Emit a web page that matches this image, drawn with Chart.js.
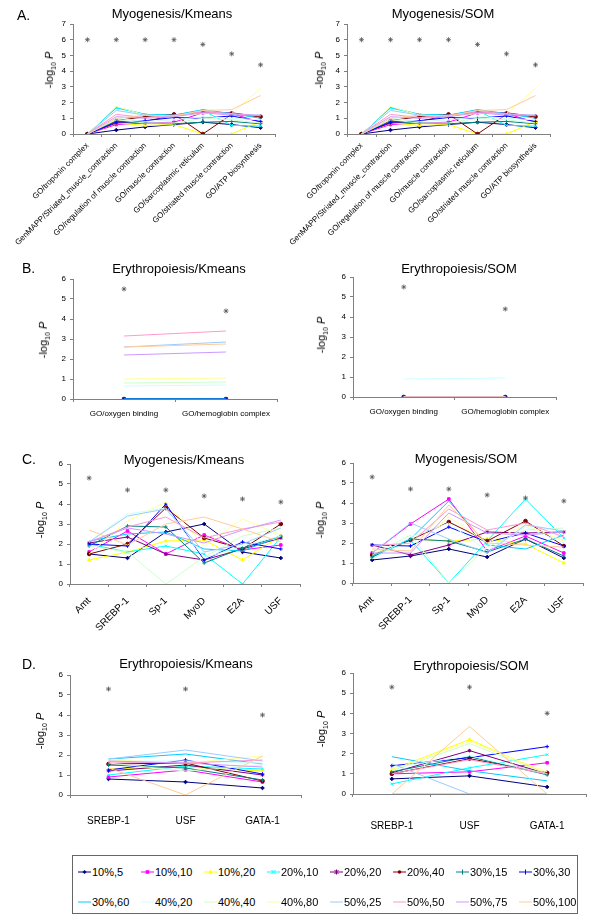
<!DOCTYPE html>
<html>
<head>
<meta charset="utf-8">
<script src="https://cdn.jsdelivr.net/npm/chart.js@4.4.1/dist/chart.umd.min.js"></script>
<style>
  body { margin: 0; background: #fff; font-family: "Liberation Sans", Arial, sans-serif; }
  #page { position: relative; width: 600px; height: 916px; overflow: hidden; }
  #page canvas { position: absolute; }
  .title { position: absolute; transform: translate(-50%, -50%); white-space: nowrap; font-size: 13px; }
  .letter { position: absolute; transform: translateY(-50%); font-size: 14px; }
  .ytitle { position: absolute; transform: translate(-50%, -50%) rotate(-90deg); white-space: nowrap; font-size: 11px; }
  .ytitle sub { font-size: 7px; }
  #legend { position: absolute; left: 72px; top: 855px; width: 506px; height: 59px; border: 1px solid #666; box-sizing: border-box; }
  .item { position: absolute; font-size: 11px; display: flex; align-items: center; transform: translateY(-50%); white-space: nowrap; }
  .item svg { margin-right: 1px; }
</style>
</head>
<body>
<div id="page"></div>
<script>
// series (legend order)
const names = ['10%,5', '10%,10', '10%,20', '20%,10', '20%,20', '20%,40', '30%,15', '30%,30',
               '30%,60', '40%,20', '40%,40', '40%,80', '50%,25', '50%,50', '50%,75', '50%,100'];
const colors = ['#000080', '#FF00FF', '#FFFF00', '#00FFFF', '#800080', '#800000', '#008080', '#0000FF',
                '#00CCFF', '#CCFFFF', '#CCFFCC', '#FFFF99', '#99CCFF', '#FF99CC', '#CC99FF', '#FFCC99'];
const markers = ['rectRot', 'rect', 'triangle', 'crossRot', 'star', 'circle', 'cross', 'cross'];

// categories
const goMyo = ['GO/troponin complex', 'GenMAPP/Striated_muscle_contraction', 'GO/regulation of muscle contraction',
               'GO/muscle contraction', 'GO/sarcoplasmic reticulum', 'GO/striated muscle contraction', 'GO/ATP biosynthesis'];
const goEry = ['GO/oxygen binding', 'GO/hemoglobin complex'];
const tfMyo = ['Amt', 'SREBP-1', 'Sp-1', 'MyoD', 'E2A', 'USF'];
const tfEry = ['SREBP-1', 'USF', 'GATA-1'];

// reference values (the * marks)
const starsA = [6, 6, 6, 6, 5.7, 5.1, 4.4];
const starsB = [5.5, 4.4];
const starsC = [5.3, 4.7, 4.7, 4.4, 4.25, 4.1];
const starsD = [5.3, 5.3, 4.0];

// -log10 P per series, one row per series in legend order
const aKmeans = [
  [0, 0.25, 0.45, 0.6, 0.75, 0.6, 0.4],
  [0, 0.6, 0.7, 0.75, 1.35, 1.3, 0.75],
  [0, 0.7, 0.55, 0.6, 0, 0, 0.8],
  [0, 1.65, 1.25, 1.2, 1.5, 0.55, 0.5],
  [0, 0.7, 0.8, 1.2, 1.4, 1.35, 1.1],
  [0, 0.85, 1.1, 1.25, 0, 1.25, 1.1],
  [0, 0.8, 0.7, 0.65, 0.75, 0.8, 0.65],
  [0, 0.75, 0.85, 1.05, 1.0, 1.15, 0.8],
  [0, 1.7, 1.25, 1.2, 1.55, 1.3, 1.0],
  [0, 1.0, 0.8, 0.9, 1.1, 1.0, 0.9],
  [0, 0.9, 0.7, 0.7, 1.0, 0.9, 0.7],
  [0, 1.75, 1.2, 1.15, 1.3, 1.3, 2.9],
  [0, 1.5, 1.2, 1.1, 1.5, 1.25, 1.2],
  [0, 1.25, 1.05, 1.2, 1.4, 1.3, 1.15],
  [0, 1.1, 1.0, 1.1, 1.35, 1.2, 1.2],
  [0, 1.0, 1.2, 1.15, 1.5, 1.55, 2.45]
];
// the SOM panel for A reads the same as Kmeans
const aSom = aKmeans;

const bKmeans = [
  [0, 0], [0, 0], [0, 0], [0, 0], [0, 0], [0, 0], [0, 0], [0, 0], [0, 0],
  [0.65, 0.7], [0.8, 0.85], [1.0, 1.05], [2.6, 2.85], [3.15, 3.4], [2.2, 2.35], [2.6, 2.75]
];
const bSom = [
  [0, 0], [0, 0], [0, 0], [0, 0], [0, 0], [0, 0], [0, 0], [0, 0], [0, 0],
  [0.9, 0.95], [0, 0], [0, 0], [0, 0], [0, 0], [0, 0], [0, 0]
];

const cKmeans = [
  [1.5, 1.3, 2.6, 3.0, 1.6, 1.3],
  [1.6, 2.65, 1.5, 2.45, 1.7, 1.95],
  [1.2, 1.6, 2.15, 2.2, 1.2, 2.4],
  [2.0, 1.6, 1.9, 1.5, 0, 2.35],
  [2.05, 2.35, 1.5, 1.2, 1.75, 2.3],
  [1.5, 2.0, 3.8, 2.3, 1.75, 3.0],
  [1.9, 2.9, 2.85, 1.05, 1.8, 2.4],
  [2.0, 1.9, 4.0, 1.2, 2.1, 1.75],
  [2.15, 2.5, 2.6, 1.75, 1.65, 2.4],
  [2.1, 3.5, 3.8, 1.3, 1.9, 2.4],
  [1.9, 1.6, 0, 1.35, 2.4, 2.8],
  [1.5, 3.15, 4.1, 1.9, 3.25, 2.45],
  [2.1, 3.4, 3.75, 1.6, 2.0, 2.8],
  [2.1, 2.85, 3.35, 2.3, 2.75, 3.1],
  [2.1, 2.8, 2.5, 2.05, 2.7, 3.2],
  [2.7, 1.95, 3.0, 3.35, 2.75, 2.1]
];
const cSom = [
  [1.15, 1.35, 1.7, 1.3, 2.2, 1.25],
  [1.5, 2.95, 4.2, 1.6, 2.35, 1.5],
  [1.3, 2.2, 2.1, 2.2, 1.95, 1.0],
  [1.3, 2.15, 0, 2.1, 4.2, 2.25],
  [1.9, 1.4, 1.9, 2.55, 2.5, 2.55],
  [1.4, 2.15, 3.05, 2.1, 3.1, 1.85],
  [1.3, 2.2, 2.1, 1.55, 2.2, 1.35],
  [1.9, 1.85, 2.8, 2.05, 2.5, 1.85],
  [1.35, 2.2, 4.1, 1.9, 1.7, 2.4],
  [1.2, 2.3, 3.0, 1.6, 2.8, 2.0],
  [1.4, 2.4, 0, 1.8, 2.65, 2.75],
  [1.6, 1.6, 3.3, 2.0, 2.9, 2.1],
  [1.5, 3.0, 2.2, 1.5, 2.9, 2.6],
  [1.85, 2.0, 3.7, 2.65, 3.0, 2.3],
  [1.5, 1.5, 3.5, 2.5, 2.4, 2.55],
  [1.7, 1.6, 3.9, 2.0, 1.9, 1.8]
];

const dKmeans = [
  [0.8, 0.65, 0.35],
  [0.9, 1.25, 0.65],
  [1.3, 1.4, 1.2],
  [1.0, 1.45, 1.3],
  [1.2, 1.5, 1.0],
  [1.55, 1.6, 0.7],
  [1.5, 1.35, 0.75],
  [1.25, 1.75, 1.05],
  [1.8, 2.05, 1.55],
  [1.7, 1.7, 1.6],
  [1.6, 1.2, 1.5],
  [1.75, 1.6, 1.95],
  [1.8, 2.25, 1.7],
  [1.65, 1.6, 1.75],
  [1.7, 1.6, 1.4],
  [1.35, 0, 1.95]
];
const dSom = [
  [0.75, 0.9, 0.35],
  [1.0, 1.1, 1.55],
  [1.2, 2.7, 1.0],
  [0.5, 1.3, 1.95],
  [1.05, 2.15, 1.0],
  [1.0, 1.75, 1.05],
  [1.1, 1.85, 0.95],
  [1.4, 1.8, 2.35],
  [1.85, 1.15, 0.65],
  [1.3, 1.9, 1.0],
  [1.15, 2.5, 1.0],
  [1.2, 2.6, 1.1],
  [1.5, 0, 0],
  [1.0, 1.7, 1.0],
  [0, 0, 0],
  [0, 3.35, 0]
];

const page = document.getElementById('page');
Chart.defaults.font.family = '"Liberation Sans", Arial, sans-serif';

function addText(cls, html, x, y) {
  const d = document.createElement('div');
  d.className = cls;
  d.innerHTML = html;
  d.style.left = x + 'px';
  d.style.top = y + 'px';
  page.appendChild(d);
}

// p.left/top/right/bottom = plot area on the page; cl/cb = canvas left / bottom edge
function panel(p) {
  const ct = p.top - 10;
  const cr = p.right + 12;
  const c = document.createElement('canvas');
  c.width = cr - p.cl;
  c.height = p.cb - ct;
  c.style.left = p.cl + 'px';
  c.style.top = ct + 'px';
  page.appendChild(c);

  const datasets = names.map((n, i) => ({
    label: n,
    data: p.series[i],
    borderColor: colors[i],
    backgroundColor: colors[i],
    borderWidth: 1,
    pointStyle: markers[i] || 'circle',
    pointRadius: markers[i] ? 1.8 : 0,
    pointBorderWidth: 1,
    tension: 0,
    order: 16 - i
  }));
  datasets.push({
    label: '*', data: p.stars, showLine: false, pointStyle: 'star',
    pointRadius: 2.5, borderColor: '#555', backgroundColor: '#555', borderWidth: 0.8, order: -1
  });

  new Chart(c, {
    type: 'line',
    data: { labels: p.labels, datasets },
    options: {
      responsive: false, animation: false, events: [],
      layout: { padding: { top: 10, right: 12, left: 0, bottom: 0 } },
      plugins: { legend: { display: false }, tooltip: { enabled: false } },
      scales: {
        x: {
          offset: true,
          grid: { drawOnChartArea: false, offset: true, tickLength: 3, color: '#808080' },
          border: { color: '#808080' },
          ticks: { autoSkip: false, maxRotation: p.rot, minRotation: p.rot, padding: p.pad,
                   color: '#000', font: { size: p.font } },
          afterFit(s) { s.height = p.cb - p.bottom; s.paddingLeft = 0; s.paddingRight = 0; }
        },
        y: {
          min: 0, max: p.yMax,
          ticks: { stepSize: 1, color: '#000', font: { size: 8 }, padding: 4 },
          grid: { drawOnChartArea: false, tickLength: 3, color: '#808080' },
          border: { color: '#808080' },
          afterFit(s) { s.width = p.left - p.cl; }
        }
      }
    }
  });

  addText('title', p.title, p.tx, p.ty);
  addText('ytitle', '-log<sub>10</sub> <i>P</i>', p.yx, p.yy);
}

panel({ title: 'Myogenesis/Kmeans', tx: 172, ty: 13, yx: 50, yy: 70,
  left: 73, top: 24, right: 275, bottom: 134, cl: 0, cb: 250,
  labels: goMyo, series: aKmeans, stars: starsA, yMax: 7, rot: 45, pad: 4, font: 8 });
panel({ title: 'Myogenesis/SOM', tx: 443, ty: 13, yx: 320, yy: 70,
  left: 347, top: 24, right: 550, bottom: 134, cl: 285, cb: 250,
  labels: goMyo, series: aSom, stars: starsA, yMax: 7, rot: 45, pad: 4, font: 8 });
panel({ title: 'Erythropoiesis/Kmeans', tx: 179, ty: 268, yx: 44, yy: 340,
  left: 73, top: 279, right: 277, bottom: 399, cl: 0, cb: 425,
  labels: goEry, series: bKmeans, stars: starsB, yMax: 6, rot: 0, pad: 7, font: 8 });
panel({ title: 'Erythropoiesis/SOM', tx: 459, ty: 268, yx: 322, yy: 335,
  left: 353, top: 277, right: 556, bottom: 397, cl: 290, cb: 425,
  labels: goEry, series: bSom, stars: starsB, yMax: 6, rot: 0, pad: 7, font: 8 });
panel({ title: 'Myogenesis/Kmeans', tx: 184, ty: 459, yx: 41, yy: 520,
  left: 70, top: 464, right: 300, bottom: 584, cl: 0, cb: 640,
  labels: tfMyo, series: cKmeans, stars: starsC, yMax: 6, rot: 45, pad: 8, font: 10 });
panel({ title: 'Myogenesis/SOM', tx: 466, ty: 458, yx: 321, yy: 520,
  left: 353, top: 463, right: 583, bottom: 583, cl: 290, cb: 640,
  labels: tfMyo, series: cSom, stars: starsC, yMax: 6, rot: 45, pad: 8, font: 10 });
panel({ title: 'Erythropoiesis/Kmeans', tx: 186, ty: 663, yx: 41, yy: 731,
  left: 70, top: 675, right: 301, bottom: 795, cl: 0, cb: 840,
  labels: tfEry, series: dKmeans, stars: starsD, yMax: 6, rot: 0, pad: 17, font: 10 });
panel({ title: 'Erythropoiesis/SOM', tx: 471, ty: 665, yx: 322, yy: 729,
  left: 353, top: 673, right: 586, bottom: 794, cl: 290, cb: 840,
  labels: tfEry, series: dSom, stars: starsD, yMax: 6, rot: 0, pad: 23, font: 10 });

addText('letter', 'A.', 17, 15);
addText('letter', 'B.', 22, 268);
addText('letter', 'C.', 22, 459);
addText('letter', 'D.', 22, 664);

// legend
function markerSvg(shape, color) {
  const m = 6.5, y = 4;
  let s = '';
  if (shape === 'rectRot') s = `<polygon points="${m},${y - 2} ${m + 2},${y} ${m},${y + 2} ${m - 2},${y}" fill="${color}"/>`;
  else if (shape === 'rect') s = `<rect x="${m - 1.8}" y="${y - 1.8}" width="3.6" height="3.6" fill="${color}"/>`;
  else if (shape === 'triangle') s = `<polygon points="${m},${y - 2.2} ${m + 2.2},${y + 1.8} ${m - 2.2},${y + 1.8}" fill="${color}"/>`;
  else if (shape === 'crossRot') s = `<path d="M${m - 2} ${y - 2}L${m + 2} ${y + 2}M${m + 2} ${y - 2}L${m - 2} ${y + 2}" stroke="${color}"/>`;
  else if (shape === 'star') s = `<path d="M${m - 2} ${y - 2}L${m + 2} ${y + 2}M${m + 2} ${y - 2}L${m - 2} ${y + 2}M${m} ${y - 2.5}L${m} ${y + 2.5}" stroke="${color}"/>`;
  else if (shape === 'circle') s = `<circle cx="${m}" cy="${y}" r="1.8" fill="${color}"/>`;
  else if (shape === 'cross') s = `<path d="M${m} ${y - 2.5}L${m} ${y + 2.5}" stroke="${color}"/>`;
  return `<svg width="13" height="8"><line x1="0" y1="${y}" x2="13" y2="${y}" stroke="${color}" stroke-width="1"/>${s}</svg>`;
}
const legend = document.createElement('div');
legend.id = 'legend';
page.appendChild(legend);
names.forEach((n, i) => {
  const it = document.createElement('div');
  it.className = 'item';
  it.style.left = (5 + 63 * (i % 8)) + 'px';
  it.style.top = (i < 8 ? 16 : 46) + 'px';
  it.innerHTML = markerSvg(markers[i], colors[i]) + '<span>' + n + '</span>';
  legend.appendChild(it);
});
</script>
</body>
</html>
